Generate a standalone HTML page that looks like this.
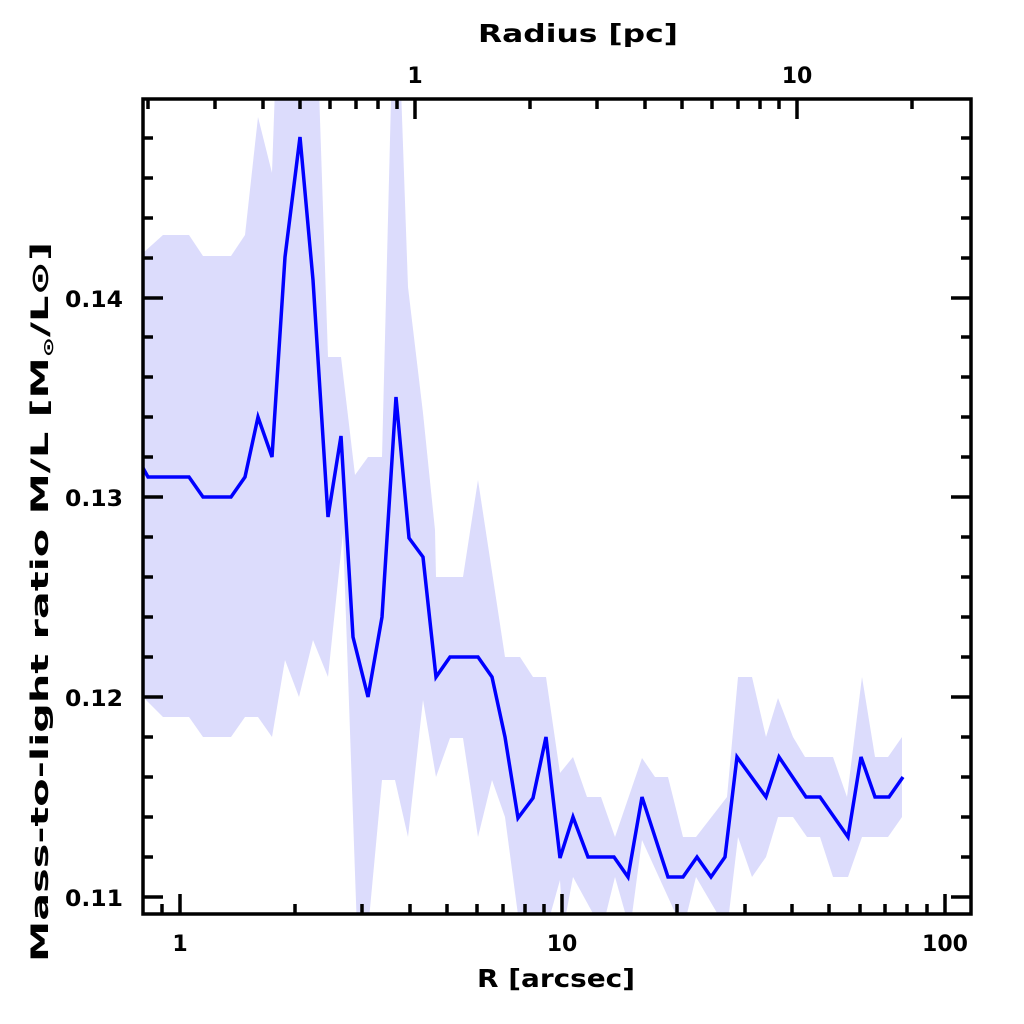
<!DOCTYPE html>
<html><head><meta charset="utf-8"><style>
html,body{margin:0;padding:0;background:#fff;}
svg{display:block;}
text{font-family:"DejaVu Sans","Liberation Sans",sans-serif;font-weight:bold;fill:#000;}
</style></head><body>
<svg width="1024" height="1024" viewBox="0 0 1024 1024" xmlns="http://www.w3.org/2000/svg">
<defs><clipPath id="c"><rect x="143" y="99" width="828" height="815"/></clipPath></defs>
<g clip-path="url(#c)">
<polygon fill="#dcdcfc" points="
143,253 163,235 189,235 203,256 231,256 245,235 258,117 272,173 276,60 318,60 328,357 341,357 355,475 368,457 382,457 392,60 400,60 408,287 423,413 435,530 436,577 463,577 478,480 505,657 520,657 533,677 546,677 560,773 573,757 587,797 601,797 615,837 642,758 655,777 668,777 683,837 696,837 727,797 738,677 752,677 766,737 778,698 793,737 805,757 833,757 847,797 862,677 875,757 888,757 902,737
902,817 888,837 875,837 862,837 848,877 833,877 820,837 807,837 793,817 778,817 766,857 752,877 738,837 727,930 696,877 683,930 642,840 630,930 615,877 602,930 573,877 563,930 560,880 546,930 520,930 505,817 492,780 478,837 463,738 450,738 436,777 423,700 408,837 395,780 382,780 368,930 357,930 343,533 328,677 313,640 299,697 285,660 272,737 258,717 245,717 231,737 203,737 189,717 163,717 143,697"/>
<polyline fill="none" stroke="#0000ff" stroke-width="3.5" stroke-linejoin="miter" points="
143,468 148,477 189,477 203,497 231,497 245,477 258,417 272,457 285,257 300,137 313,280 328,517 341,436 353,637 368,697 382,617 396,397 409,538 423,557 436,677 450,657 478,657 492,677 505,737 518,818 533,798 546,737 560,858 573,817 588,857 614,857 628,877 642,797 668,877 683,877 697,857 711,877 725,857 737,757 766,797 779,757 806,797 820,797 848,837 861,757 875,797 889,797 903,777"/>
</g>
<g stroke="#000" stroke-width="3.5" fill="none">
<rect x="143" y="99" width="828" height="815"/>
<path d="
M143,897h20 M143,857h10 M143,817h10 M143,777h10 M143,737h10 M143,697h20 M143,657h10 M143,617h10 M143,577h10 M143,537h10 M143,497h20 M143,457h10 M143,417h10 M143,377h10 M143,337h10 M143,298h20 M143,258h10 M143,218h10 M143,178h10 M143,138h10
M971,897h-20 M971,857h-10 M971,817h-10 M971,777h-10 M971,737h-10 M971,697h-20 M971,657h-10 M971,617h-10 M971,577h-10 M971,537h-10 M971,497h-20 M971,457h-10 M971,417h-10 M971,377h-10 M971,337h-10 M971,298h-20 M971,258h-10 M971,218h-10 M971,178h-10 M971,138h-10
M162,914v-10 M180,914v-20 M295,914v-10 M362,914v-10 M410,914v-10 M447,914v-10 M477,914v-10 M503,914v-10 M525,914v-10 M544,914v-10 M562,914v-20 M677,914v-10 M745,914v-10 M792,914v-10 M829,914v-10 M860,914v-10 M885,914v-10 M907,914v-10 M927,914v-10 M945,914v-20
M148,99v10 M215,99v10 M263,99v10 M300,99v10 M330,99v10 M356,99v10 M378,99v10 M397,99v10 M415,99v20 M530,99v10 M597,99v10 M645,99v10 M682,99v10 M712,99v10 M738,99v10 M760,99v10 M779,99v10 M797,99v20 M912,99v10"/>
</g>
<g font-size="22">
<text x="123" y="906" text-anchor="end" textLength="58" lengthAdjust="spacingAndGlyphs">0.11</text>
<text x="123" y="706" text-anchor="end" textLength="58" lengthAdjust="spacingAndGlyphs">0.12</text>
<text x="123" y="506" text-anchor="end" textLength="58" lengthAdjust="spacingAndGlyphs">0.13</text>
<text x="123" y="307" text-anchor="end" textLength="58" lengthAdjust="spacingAndGlyphs">0.14</text>
<text x="180" y="951" text-anchor="middle">1</text>
<text x="562" y="951" text-anchor="middle">10</text>
<text x="945" y="951" text-anchor="middle">100</text>
<text x="415" y="83" text-anchor="middle">1</text>
<text x="797" y="83" text-anchor="middle">10</text>
</g>
<g font-size="25">
<text x="578" y="42" text-anchor="middle" textLength="200" lengthAdjust="spacingAndGlyphs">Radius [pc]</text>
<text x="556" y="987" text-anchor="middle" textLength="158" lengthAdjust="spacingAndGlyphs">R [arcsec]</text>
<text transform="translate(48,602) rotate(-90)" text-anchor="middle" textLength="720" lengthAdjust="spacingAndGlyphs" font-size="24">Mass-to-light ratio M/L [M<tspan font-size="14" dy="5">⊙</tspan><tspan dy="-5">/L⊙]</tspan></text>
</g>
</svg>
</body></html>
